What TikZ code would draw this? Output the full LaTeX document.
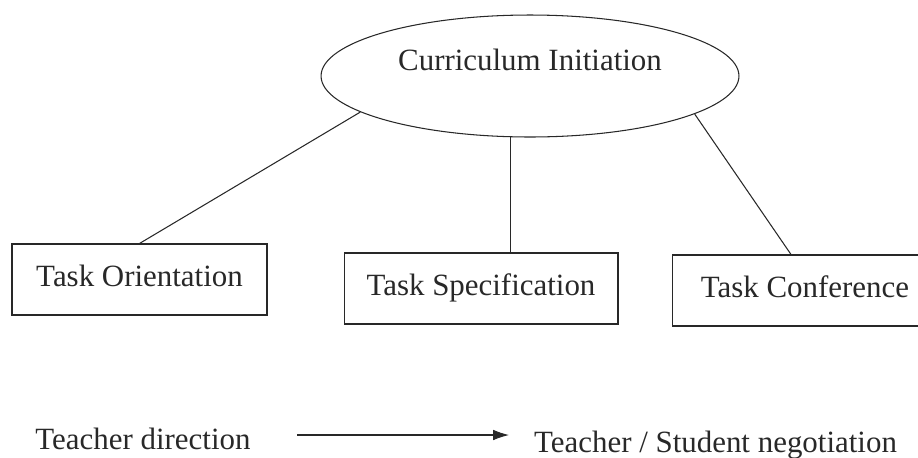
\documentclass[tikz,border=0pt]{standalone}
\usepackage{fontspec}
\setmainfont{Liberation Serif}
\usepackage{tikz}
\usetikzlibrary{shapes.geometric, arrows.meta}
\tikzset{>={Latex[length=9pt,width=6pt]}}
\definecolor{mygray1}{RGB}{40, 40, 40}

\begin{document}
\begin{tikzpicture}[x = 0.02cm, y = -0.02cm, font = \fontsize{17.6}{21}\selectfont,
  stagebox/.style = {draw, rectangle, minimum height = 1.42cm, text height = 0.42cm, text depth = 0.155cm, inner sep = 0pt}]
\useasboundingbox (0,0) rectangle (918,457);
\begin{scope}[color = mygray1, line width = 0.6pt]
\node[draw, ellipse, minimum width = 8.36cm, minimum height = 2.44cm, text height = 0.42cm, text depth = 0.66cm, inner sep = 0pt] (ci) at (530, 76) {Curriculum Initiation};
\node[stagebox, minimum width = 5.1cm]  (b1) at (139.5, 279.5) {Task Orientation};
\node[stagebox, minimum width = 5.48cm] (b2) at (481, 288.5) {Task Specification};
\node[stagebox, minimum width = 5.3cm]  (b3) at (805, 290.5) {Task Conference};
\draw (ci.192.6) -- (b1.north);
\draw (ci.252) -- (ci.252 |- b2.north);
\draw (ci.347.6) -- ([xshift = -0.28cm]b3.north);
\node[anchor = base] (td)  at (143, 449) {Teacher direction};
\node[anchor = base] (tsn) at (715.5, 452) {Teacher / Student negotiation};
\coordinate (a1) at (297, 435);
\coordinate (a2) at (509, 435);
\draw[->] (a1) -- (a2);
\end{scope}
\end{tikzpicture}
\end{document}
